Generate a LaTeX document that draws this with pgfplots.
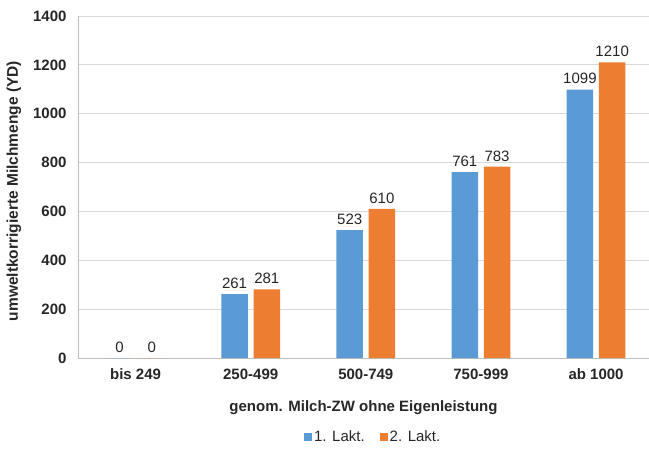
\documentclass[border=0pt]{standalone}
\usepackage{pgfplots}
\pgfplotsset{compat=1.18}
\usepackage{fontspec}
\setmainfont{Liberation Sans}
\definecolor{blueBar}{HTML}{5B9BD5}
\definecolor{orangeBar}{HTML}{ED7D31}
\definecolor{gridgray}{HTML}{D9D9D9}
\definecolor{axisgray}{HTML}{BFBFBF}
\definecolor{txt}{HTML}{262626}
\begin{document}
\begin{tikzpicture}
\begin{axis}[
    scale only axis,
    width=571pt, height=342pt,
    ybar, bar width=0.23,
    xmin=-0.5, xmax=4.46,
    ymin=0, ymax=1400,
    ytick={0,200,...,1400},
    xtick={0,1,2,3,4},
    xticklabels={bis 249,250-499,500-749,750-999,ab 1000},
    axis x line*=bottom, axis y line*=left,
    axis line style={axisgray, line width=0.8pt, -},
    ymajorgrids, grid style={gridgray, line width=0.8pt},
    major tick length=0pt,
    tick label style={font=\fontsize{15}{17}\selectfont\bfseries, text=txt},
    yticklabel style={xshift=-8pt},
    xticklabel style={yshift=-7pt},
    /pgf/number format/assume math mode=true,
    /pgf/number format/set thousands separator={},
    ylabel={umweltkorrigierte Milchmenge (YD)},
    ylabel style={font=\fontsize{15.5}{17}\selectfont\bfseries, text=txt, yshift=5pt, xshift=-4pt},
    xlabel={genom. Milch-ZW ohne Eigenleistung},
    xlabel style={font=\fontsize{15}{17}\selectfont\bfseries, text=txt, yshift=-14pt},
    nodes near coords,
    every node near coord/.append style={font=\fontsize{15}{17}\selectfont, text=txt, yshift=2pt},
    legend style={at={(0.517,-0.2)}, anchor=north, draw=none, legend columns=2,
        font=\fontsize{15}{17}\selectfont, text=txt,
        /tikz/every even column/.append style={column sep=13pt}},
    legend image code/.code={\fill (0pt,-4pt) rectangle (8pt,4pt);},
    ]
    % 1. Laktation
    \addplot[ybar, bar shift=-0.14, fill=blueBar, draw=none]
    coordinates{(0,0) (1,261) (2,523) (3,761) (4,1099)};
    % 2. Laktation
    \addplot[ybar, bar shift=0.14, fill=orangeBar, draw=none]
    coordinates{(0,0) (1,281) (2,610) (3,783) (4,1210)};
    \legend{1. Lakt., 2. Lakt.}
\end{axis}
\pgfresetboundingbox
\path (-78pt,-90pt) rectangle (571pt,358pt);
\end{tikzpicture}
\end{document}
